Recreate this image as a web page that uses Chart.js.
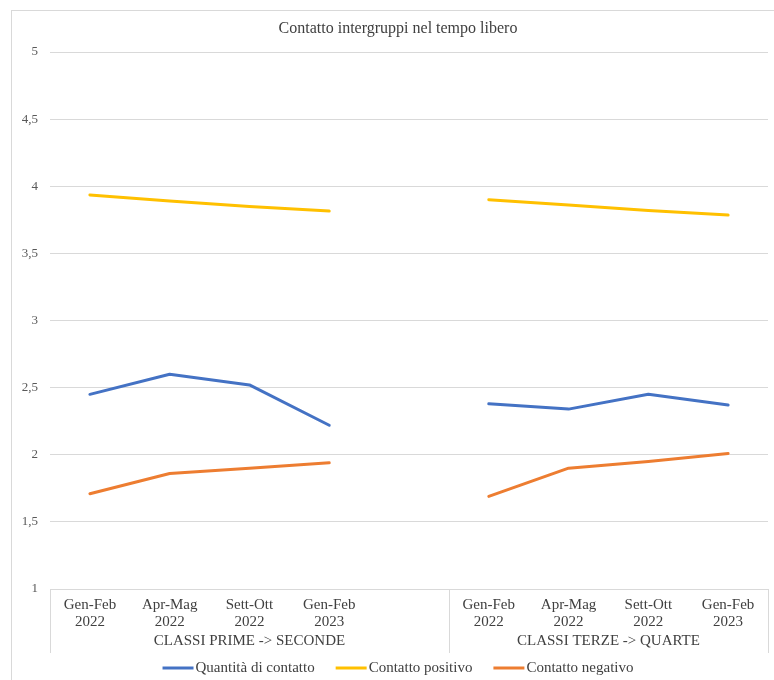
<!DOCTYPE html>
<html lang="it">
<head>
<meta charset="utf-8">
<title>Contatto intergruppi nel tempo libero</title>
<script src="https://cdn.jsdelivr.net/npm/chart.js@4/dist/chart.umd.min.js"></script>
<style>
  html, body { margin: 0; padding: 0; background: #ffffff; }
  #wrap { width: 774px; height: 680px; }
</style>
</head>
<body>
<div id="wrap"><canvas id="chart" width="774" height="680"></canvas></div>
<script>
// Titolo e gruppi di classi
const chartTitle = 'Contatto intergruppi nel tempo libero';
const groupNames = ['CLASSI PRIME -> SECONDE', 'CLASSI TERZE -> QUARTE'];

// Periodi di rilevazione (ripetuti per ciascun gruppo)
const periods = ['Gen-Feb', 'Apr-Mag', 'Sett-Ott', 'Gen-Feb'];
const years   = ['2022', '2022', '2022', '2023'];

// Medie per gruppo: primi quattro valori = prime -> seconde, ultimi quattro = terze -> quarte
const quantitaPrime  = [2.45, 2.60, 2.52, 2.22];
const quantitaTerze  = [2.38, 2.34, 2.45, 2.37];
const positivoPrime  = [3.935, 3.89, 3.85, 3.815];
const positivoTerze  = [3.90, 3.86, 3.82, 3.785];
const negativoPrime  = [1.71, 1.86, 1.90, 1.94];
const negativoTerze  = [1.69, 1.90, 1.95, 2.01];

// Scala dell'asse verticale
const yMin = 1, yMax = 5, yStep = 0.5;

// Etichette: i due gruppi separati da una categoria vuota
const periodLabels = periods.map((p, i) => [p, years[i]]);
const labels = [...periodLabels, '', ...periodLabels];
const joinGroups = (a, b) => [...a, null, ...b];

const SERIF = '"Liberation Serif", "Times New Roman", serif';
const TEXT = '#404040';
const GRID = '#d9d9d9';

const frame = {
  id: 'frame',
  beforeDraw(chart) {
    const ctx = chart.ctx;
    ctx.save();
    ctx.strokeStyle = GRID;
    ctx.lineWidth = 1;
    ctx.strokeRect(11.5, 10.5, 790, 700);
    ctx.restore();
  },
  afterDraw(chart) {
    const ctx = chart.ctx;
    const area = chart.chartArea;
    const x = chart.scales.x;
    const cx = 398;

    ctx.save();
    // titolo
    ctx.fillStyle = TEXT;
    ctx.font = '16px ' + SERIF;
    ctx.textAlign = 'center';
    ctx.textBaseline = 'middle';
    ctx.fillText(chartTitle, cx, 29);

    // separatori dei gruppi sotto l'asse
    const split = (x.getPixelForValue(4) + x.getPixelForValue(5)) / 2;
    const bounds = [area.left, split, area.right];
    ctx.strokeStyle = GRID;
    ctx.lineWidth = 1;
    bounds.forEach(b => {
      const px = Math.round(b) + 0.5;
      ctx.beginPath();
      ctx.moveTo(px, area.bottom);
      ctx.lineTo(px, area.bottom + 64);
      ctx.stroke();
    });

    // nomi dei gruppi
    ctx.fillStyle = TEXT;
    ctx.font = '15px ' + SERIF;
    ctx.fillText(groupNames[0], (bounds[0] + bounds[1]) / 2, area.bottom + 52);
    ctx.fillText(groupNames[1], (bounds[1] + bounds[2]) / 2, area.bottom + 52);

    // legenda
    const lineLen = 31, gapText = 2, gapItem = 21;
    const items = chart.data.datasets.map(ds => ({
      text: ds.label, color: ds.borderColor, w: ctx.measureText(ds.label).width
    }));
    const total = items.reduce((s, it) => s + lineLen + gapText + it.w, 0) + gapItem * (items.length - 1);
    let lx = cx - total / 2;
    const ly = 668;
    ctx.textAlign = 'left';
    items.forEach(it => {
      ctx.strokeStyle = it.color;
      ctx.lineWidth = 3;
      ctx.beginPath();
      ctx.moveTo(lx, ly);
      ctx.lineTo(lx + lineLen, ly);
      ctx.stroke();
      ctx.fillStyle = TEXT;
      ctx.fillText(it.text, lx + lineLen + gapText, ly);
      lx += lineLen + gapText + it.w + gapItem;
    });
    ctx.restore();
  }
};

const lineStyle = {
  borderWidth: 3,
  pointRadius: 0,
  pointHoverRadius: 0,
  tension: 0,
  borderCapStyle: 'round',
  borderJoinStyle: 'round',
  spanGaps: false,
  fill: false
};

new Chart(document.getElementById('chart'), {
  type: 'line',
  data: {
    labels,
    datasets: [
      { label: 'Quantità di contatto', data: joinGroups(quantitaPrime, quantitaTerze), borderColor: '#4472C4', backgroundColor: '#4472C4', ...lineStyle },
      { label: 'Contatto positivo',    data: joinGroups(positivoPrime, positivoTerze), borderColor: '#FFC000', backgroundColor: '#FFC000', ...lineStyle },
      { label: 'Contatto negativo',    data: joinGroups(negativoPrime, negativoTerze), borderColor: '#ED7D31', backgroundColor: '#ED7D31', ...lineStyle }
    ]
  },
  options: {
    responsive: false,
    animation: false,
    devicePixelRatio: 1,
    layout: { padding: { top: 52, right: 6, bottom: 0, left: 0 } },
    plugins: {
      legend: { display: false },
      title: { display: false },
      tooltip: { enabled: false }
    },
    scales: {
      x: {
        type: 'category',
        offset: true,
        grid: { display: false, drawTicks: false },
        border: { display: true, color: GRID, width: 1 },
        ticks: {
          autoSkip: false,
          maxRotation: 0,
          minRotation: 0,
          padding: 8,
          color: TEXT,
          font: { family: SERIF, size: 15, lineHeight: 1.1 }
        },
        afterFit(scale) { scale.height = 91; }
      },
      y: {
        min: yMin,
        max: yMax,
        grid: { color: GRID, lineWidth: 1, drawTicks: false },
        border: { display: false },
        ticks: {
          stepSize: yStep,
          padding: 12,
          color: '#595959',
          font: { family: SERIF, size: 13 },
          callback: v => String(v).replace('.', ',')
        },
        afterFit(scale) { scale.width = 50; }
      }
    }
  },
  plugins: [frame]
});
</script>
</body>
</html>
